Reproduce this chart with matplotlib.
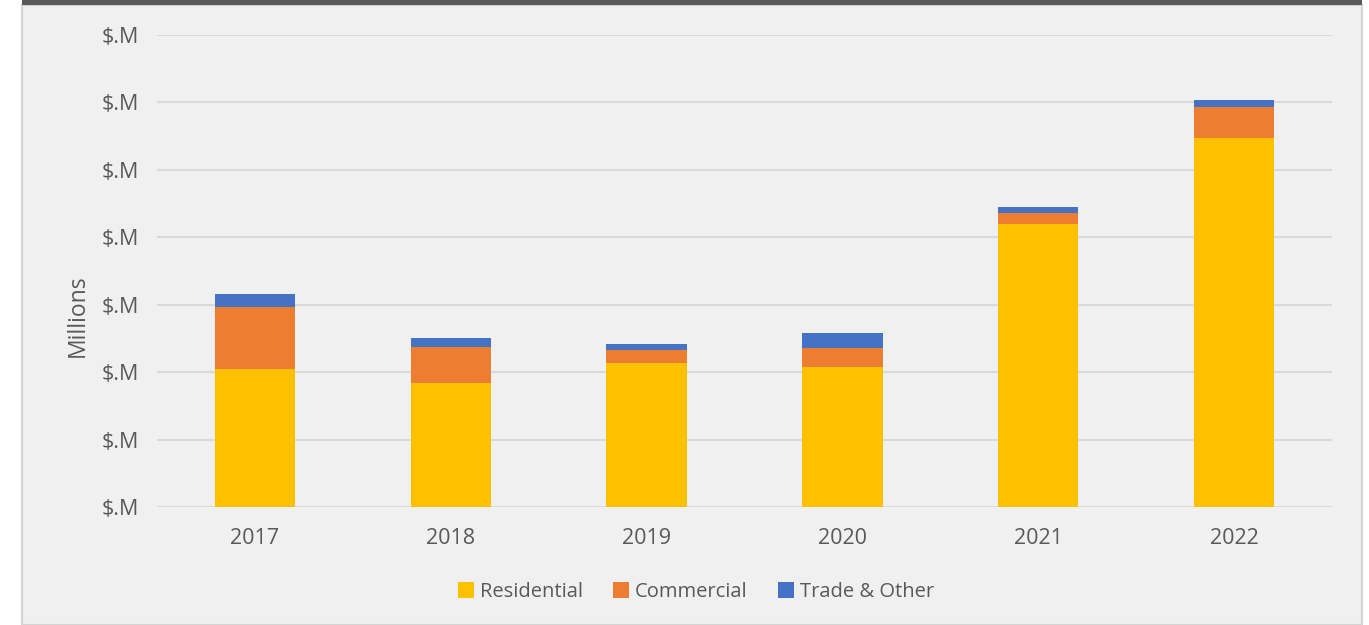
import matplotlib
matplotlib.use("Agg")
from matplotlib import pyplot as plt
from matplotlib.patches import Rectangle
import numpy as np

years = ["2017", "2018", "2019", "2020", "2021", "2022"]
residential = [2.05, 1.84, 2.14, 2.08, 4.20, 5.47]
commercial = [0.92, 0.53, 0.19, 0.28, 0.16, 0.46]
trade_other = [0.19, 0.14, 0.09, 0.22, 0.09, 0.10]
y_ticks = [0, 1, 2, 3, 4, 5, 6, 7]
y_tick_labels = ["$.M"] * len(y_ticks)

plt.rcParams['font.family'] = ['Open Sans', 'DejaVu Sans']
txt = '#595959'

fig = plt.figure(figsize=(13.69, 6.25), dpi=100)
fig.patch.set_facecolor('white')

# panel background + dark strip at top
W, H = 1369.0, 625.0
fig.patches.append(Rectangle((22 / W, 0), (1362 - 22) / W, (620) / H,
                             transform=fig.transFigure, facecolor='#f0f0f0',
                             edgecolor='#d4d4d4', linewidth=1.5, zorder=-5))
fig.patches.append(Rectangle((22 / W, 620 / H), (1362 - 22) / W, 5 / H,
                             transform=fig.transFigure, facecolor='#595959',
                             edgecolor='none', zorder=-4))

ax = fig.add_axes([157 / W, 1 - 507 / H, (1332 - 157) / W, (507 - 35) / H])
ax.set_zorder(5)
ax.set_facecolor('none')

x = np.arange(len(years))
res = np.array(residential)
com = np.array(commercial)
tro = np.array(trade_other)
bw = 0.41
ax.bar(x, res, bw, color='#FFC000', label='Residential', zorder=3)
ax.bar(x, com, bw, bottom=res, color='#ED7D31', label='Commercial', zorder=3)
ax.bar(x, tro, bw, bottom=res + com, color='#4472C4', label='Trade & Other', zorder=3)

ax.set_xlim(-0.5, len(years) - 0.5)
ax.set_ylim(0, 7)
ax.set_yticks(y_ticks)
ax.set_yticklabels(y_tick_labels)
ax.set_xticks(x)
ax.set_xticklabels(years)
ax.tick_params(axis='both', length=0, labelsize=15.5, colors=txt)
ax.tick_params(axis='y', pad=13)
ax.tick_params(axis='x', pad=15)
for s in ax.spines.values():
    s.set_visible(False)
ax.yaxis.grid(True, color='#d9d9d9', linewidth=1.5, zorder=0)
ax.set_axisbelow(True)

ax.set_ylabel('Millions', fontsize=16.5, color=txt)
ax.yaxis.set_label_coords((90 - 157) / (1332 - 157), (507 - 316) / (507 - 35))

leg = fig.legend(loc='center', bbox_to_anchor=(696 / W, 1 - 592 / H), ncol=3,
                 frameon=False, fontsize=14.5, handlelength=0.8, handleheight=0.8,
                 handletextpad=0.3, columnspacing=1.5, labelcolor=txt)

fig.savefig('out.png', dpi=100, facecolor=fig.get_facecolor())
